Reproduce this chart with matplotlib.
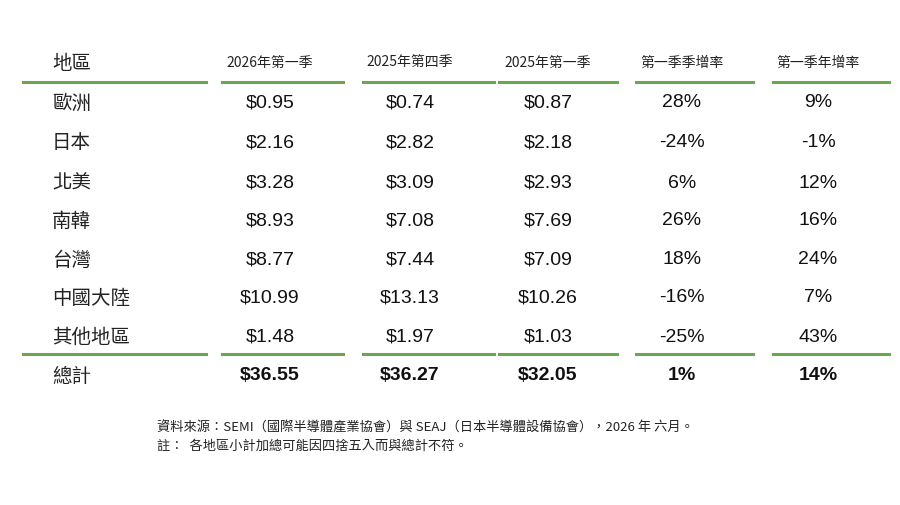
import matplotlib
matplotlib.use("Agg")
import matplotlib.pyplot as plt
from matplotlib.lines import Line2D

plt.rcParams['font.family'] = ['Liberation Sans', 'Noto Sans CJK TC', 'DejaVu Sans']

headers = ["地區", "2026年第一季", "2025年第四季", "2025年第一季", "第一季季增率", "第一季年增率"]
regions = ["歐洲", "日本", "北美", "南韓", "台灣", "中國大陸", "其他地區"]
q1_2026 = ["$0.95", "$2.16", "$3.28", "$8.93", "$8.77", "$10.99", "$1.48"]
q4_2025 = ["$0.74", "$2.82", "$3.09", "$7.08", "$7.44", "$13.13", "$1.97"]
q1_2025 = ["$0.87", "$2.18", "$2.93", "$7.69", "$7.09", "$10.26", "$1.03"]
qoq = ["28%", "-24%", "6%", "26%", "18%", "-16%", "-25%"]
yoy = ["9%", "-1%", "12%", "16%", "24%", "7%", "43%"]
total = ["總計", "$36.55", "$36.27", "$32.05", "1%", "14%"]
notes = ["資料來源：SEMI（國際半導體產業協會）與 SEAJ（日本半導體設備協會），2026 年 六月。",
         "註：  各地區小計加總可能因四捨五入而與總計不符。"]

W, H = 900, 506
fig = plt.figure(figsize=(9, 5.06), dpi=100)
fig.patch.set_facecolor("white")
X = lambda x: x / W
Y = lambda y: 1 - y / H
cjk = ['Noto Sans CJK TC', 'DejaVu Sans']

col_x = [52, 270, 410, 548, 682, 818]
segs = [(23, 206), (222, 343), (363, 494), (499, 617), (636, 753), (773, 889)]
green = "#6aa84f"

for i, h in enumerate(headers):
    if i == 0:
        fig.text(X(col_x[0]), Y(64), h, ha="left", va="center", fontsize=14, family=cjk, color="#222")
    else:
        fig.text(X(col_x[i]), Y(63), h, ha="center", va="center", fontsize=10, family=cjk, color="#222")

for yl in (83, 355):
    for a, b in segs:
        fig.add_artist(Line2D([X(a), X(b)], [Y(yl), Y(yl)], color=green, lw=2.2))

row_y = [103, 143, 183, 221, 260, 298, 337]
cols = [q1_2026, q4_2025, q1_2025, qoq, yoy]
for r, y in enumerate(row_y):
    fig.text(X(col_x[0]), Y(y), regions[r], ha="left", va="center", fontsize=14, family=cjk, color="#222")
    for c, vals in enumerate(cols):
        fig.text(X(col_x[c + 1]), Y(y), vals[r], ha="center", va="center", fontsize=14, color="#111")

fig.text(X(col_x[0]), Y(376), total[0], ha="left", va="center", fontsize=14, family=cjk, color="#222")
for c in range(1, 6):
    fig.text(X(col_x[c]), Y(375), total[c], ha="center", va="center", fontsize=14, fontweight="bold", color="#111")

fig.text(X(157), Y(428), notes[0], ha="left", va="center", fontsize=9.5, family=cjk, color="#222")
fig.text(X(157), Y(446), notes[1], ha="left", va="center", fontsize=9.5, family=cjk, color="#222")

fig.savefig("out.png", dpi=100, facecolor="white")
